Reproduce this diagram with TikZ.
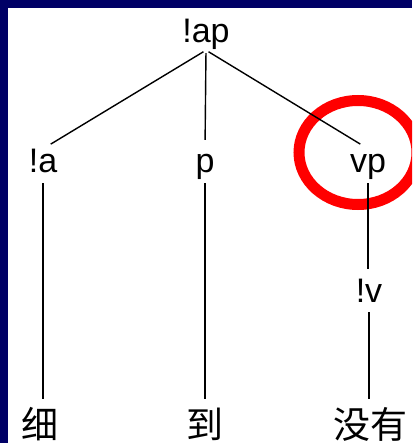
\documentclass[tikz,border=0pt]{standalone}
\usepackage{fontspec}
\setmainfont{Liberation Sans}
\newfontfamily\cjk{Noto Sans CJK SC}
\usepackage{tikz}
\definecolor{slidebg}{RGB}{0,0,102}

\begin{document}
\begin{tikzpicture}[x=1pt, y=-1pt,
  cat/.style={font=\fontsize{34}{34}\selectfont, inner sep=0pt, anchor=base,
              text height=24pt, text depth=7pt},
  word/.style={font=\cjk\fontsize{37}{37}\selectfont, inner sep=0pt, anchor=base,
               text height=30pt, text depth=3pt},
  edge/.style={black, line width=1.4pt, shorten <=3pt, shorten >=9pt},
  ring/.style={red, line width=11pt}]
\useasboundingbox (0,0) rectangle (412,443);
\clip (0,0) rectangle (412,443);
\fill[slidebg] (0,0) rectangle (412,443);
\fill[white] (8,8) rectangle (412,443);
\node[cat] (ap) at (206,43) {!ap};
\node[cat] (a) at (43,173) {!a};
\node[cat] (p) at (205,173) {p};
\node[cat] (vp) at (368,173) {vp};
\node[cat] (v) at (369,302) {!v};
\node[word] (xi) at (40,438) {细};
\node[word] (dao) at (205,438) {到};
\node[word] (meiyou) at (370,438) {没有};
\draw[ring] (358,152.5) ellipse [x radius=59, y radius=52];
\foreach \c in {a,p,vp}
  \draw[edge] (ap.south) -- (\c.north);
\draw[edge] (a.south) -- (a.south |- xi.north);
\draw[edge] (p.south) -- (p.south |- dao.north);
\draw[edge] (vp.south) -- (vp.south |- v.north);
\draw[edge] (v.south) -- (v.south |- meiyou.north);
\end{tikzpicture}
\end{document}
